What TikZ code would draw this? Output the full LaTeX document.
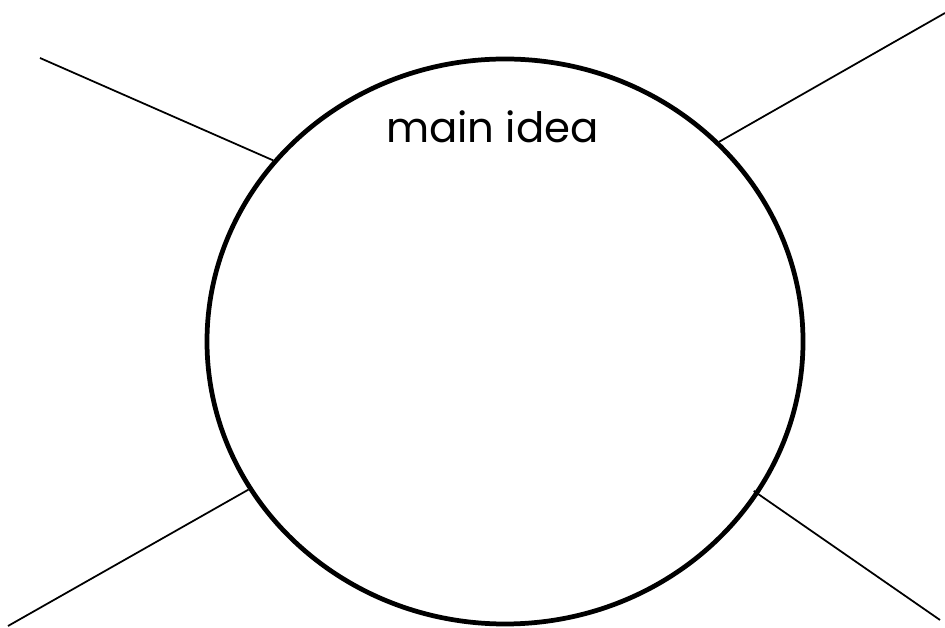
\documentclass[tikz,border=0pt]{standalone}
\usepackage{fontspec}
\setmainfont{Poppins}
\usepackage{tikz}
\usetikzlibrary{shapes.geometric, positioning, calc}

\begin{document}
\begin{tikzpicture}
  \useasboundingbox (0, 0) rectangle (9.45, 6.27);
  \node[draw, ellipse, line width=1.35pt, minimum width=5.96cm, minimum height=5.65cm, inner sep=0pt] (idea) at (5.05, 2.855) {};
  \node[font=\fontsize{11.9}{14}\selectfont, anchor=base] (title) at (4.925, 4.84) {main idea};
  \coordinate (tl) at (0.40, 5.69);
  \coordinate (tr) at (9.45, 6.14);
  \coordinate (bl) at (0.08, 0.01);
  \coordinate (br) at (9.40, 0.07);
  \draw[line width=0.5pt] (idea.142) -- (tl);
  \draw[line width=0.5pt] (idea.43) -- (tr);
  \draw[line width=0.5pt] (idea.210) -- (bl);
  \draw[line width=0.5pt] ($(idea.-31.5)+(-0.05, 0.03)$) -- (br);
\end{tikzpicture}
\end{document}
